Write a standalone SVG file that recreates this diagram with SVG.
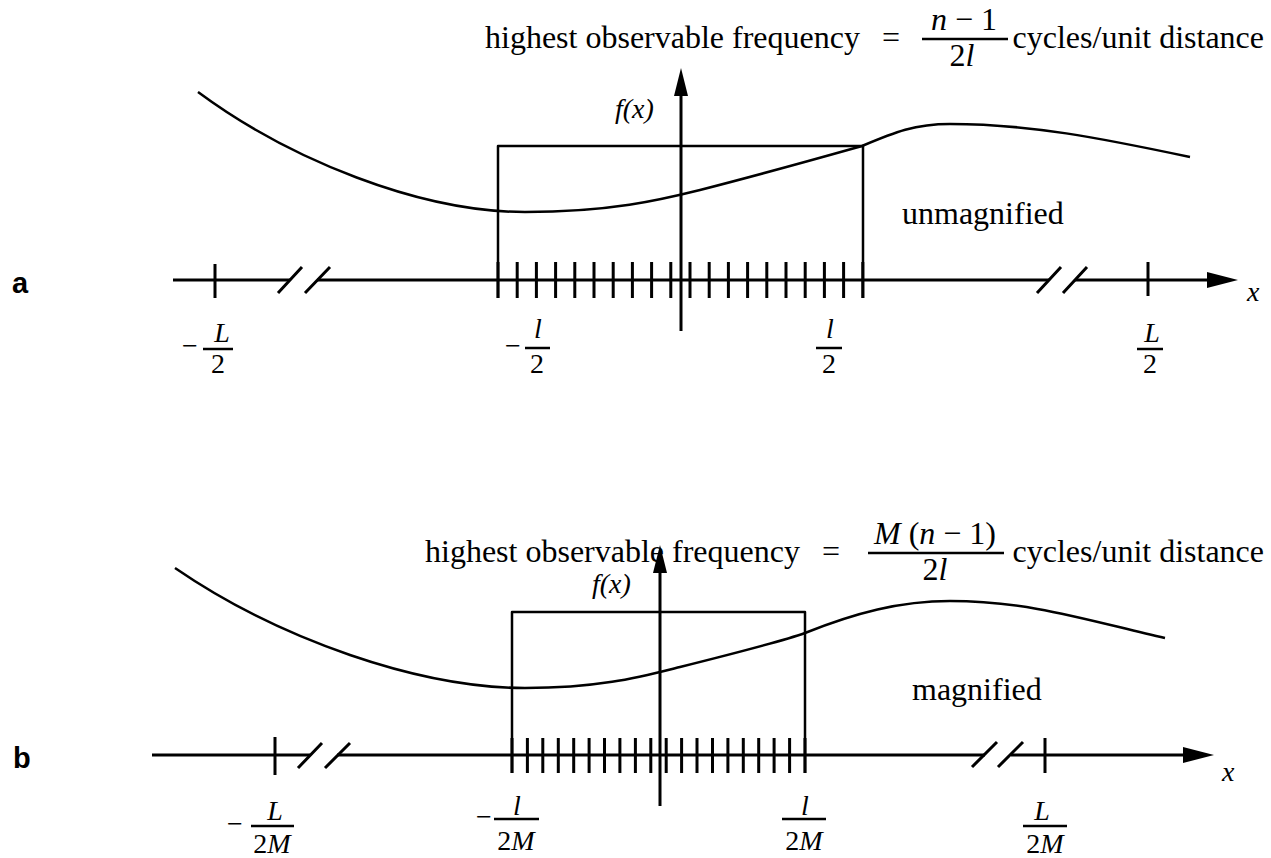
<svg xmlns="http://www.w3.org/2000/svg" width="1271" height="858" viewBox="0 0 1271 858">
<style>
.ln{stroke:#000;stroke-width:2.5;fill:none;stroke-linejoin:round}
.ax{stroke:#000;stroke-width:3;fill:none}
.tk{stroke:#000;stroke-width:3;fill:none}
.t{font-family:"Liberation Serif","Times New Roman",serif;font-size:32px;fill:#000}
.m{font-family:"Liberation Serif","Times New Roman",serif;font-size:28px;fill:#000}
.i{font-style:italic}
.c{text-anchor:middle}
.e{text-anchor:end}
.s{font-family:"Liberation Sans",Arial,sans-serif;font-weight:bold;font-size:29px;fill:#000}
</style>

<g id="panel-a">
  <g id="a-label"><text class="s" x="12" y="293">a</text></g>
  <g id="a-title">
    <text class="t" x="485" y="48">highest observable frequency</text>
    <text class="t" x="882" y="48">=</text>
    <text class="t c" x="964" y="30"><tspan class="i">n</tspan> − 1</text>
    <line class="ln" x1="922" y1="39" x2="1008" y2="39"/>
    <text class="t c" x="962" y="66">2<tspan class="i">l</tspan></text>
    <text class="t e" x="1264" y="48">cycles/unit distance</text>
  </g>
  <g id="a-curve"><path class="ln" d="M198,92 C290,160 420,212 525,212 C610,212 660,200 700,190 C770,172 830,155 862,146 C895,132 915,124 950,124 C1030,124 1100,138 1190,157"/></g>
  <g id="a-window"><path class="ln" d="M498,298 V146 H863 V298"/></g>
  <g id="a-fx-axis">
    <line class="ax" x1="681" y1="92" x2="681" y2="331"/>
    <polygon points="681,68 674,96 688,96" fill="#000"/>
    <text class="m i" x="615" y="118">f(x)</text>
  </g>
  <g id="a-x-axis">
    <path class="ax" d="M173,280 H290 M317,280 H1049 M1075,280 H1210"/>
    <polygon points="1238,280 1207,272 1207,288" fill="#000"/>
    <path class="tk" d="M278,293 L302,267 M305,293 L330,267 M1037,293 L1061,267 M1063,293 L1087,267"/>
    <path class="tk" d="M215,264 V298 M1148,262 V296"/>
    <path class="tk" d="M498,262V298 M517.2,262V298 M536.4,262V298 M555.6,262V298 M574.8,262V298 M594,262V298 M613.2,262V298 M632.4,262V298 M651.6,262V298 M670.8,262V298 M690,262V298 M709.2,262V298 M728.4,262V298 M747.6,262V298 M766.8,262V298 M786,262V298 M805.2,262V298 M824.4,262V298 M843.6,262V298 M862.8,262V298"/>
    <text class="m i" x="1247" y="301">x</text>
  </g>
  <g id="a-tick-labels">
    <text class="m" x="182" y="355">−</text>
    <text class="m i c" x="222" y="342">L</text>
    <line class="ln" x1="203" y1="349" x2="233" y2="349"/>
    <text class="m c" x="218" y="373">2</text>
    <text class="m" x="505" y="355">−</text>
    <text class="m i c" x="538" y="338">l</text>
    <line class="ln" x1="525" y1="348" x2="550" y2="348"/>
    <text class="m c" x="537" y="373">2</text>
    <text class="m i c" x="830" y="338">l</text>
    <line class="ln" x1="816" y1="348" x2="842" y2="348"/>
    <text class="m c" x="829" y="373">2</text>
    <text class="m i c" x="1152" y="342">L</text>
    <line class="ln" x1="1137" y1="349" x2="1163" y2="349"/>
    <text class="m c" x="1150" y="373">2</text>
  </g>
  <g id="a-caption"><text class="t" x="902" y="224">unmagnified</text></g>
</g>

<g id="panel-b">
  <g id="b-label"><text class="s" x="13" y="768">b</text></g>
  <g id="b-title">
    <text class="t" x="425" y="562">highest observable frequency</text>
    <text class="t" x="822" y="562">=</text>
    <text class="t c" x="935" y="544"><tspan class="i">M</tspan> (<tspan class="i">n</tspan> − 1)</text>
    <line class="ln" x1="868" y1="553" x2="1004" y2="553"/>
    <text class="t c" x="935" y="580">2<tspan class="i">l</tspan></text>
    <text class="t e" x="1264" y="562">cycles/unit distance</text>
  </g>
  <g id="b-curve"><path class="ln" d="M175,568 C280,640 420,688 525,688 C600,688 640,677 680,667 C740,652 780,642 805,633 C855,613 900,601 950,601 C1030,601 1090,621 1165,638"/></g>
  <g id="b-window"><path class="ln" d="M512,773 V612 H805 V773"/></g>
  <g id="b-fx-axis">
    <line class="ax" x1="660" y1="570" x2="660" y2="806"/>
    <polygon points="660,545 653,573 667,573" fill="#000"/>
    <text class="m i" x="592" y="593">f(x)</text>
  </g>
  <g id="b-x-axis">
    <path class="ax" d="M152,755 H310 M337,755 H985 M1011,755 H1186"/>
    <polygon points="1214,755 1183,747 1183,763" fill="#000"/>
    <path class="tk" d="M298,768 L322,743 M325,768 L350,743 M972,767 L997,742 M998,767 L1023,742"/>
    <path class="tk" d="M275,737 V775 M1045,738 V773"/>
    <path class="tk" d="M512,738V773 M527.4,738V773 M542.8,738V773 M558.3,738V773 M573.7,738V773 M589.1,738V773 M604.5,738V773 M619.9,738V773 M635.4,738V773 M650.8,738V773 M666.2,738V773 M681.6,738V773 M697,738V773 M712.5,738V773 M727.9,738V773 M743.3,738V773 M758.7,738V773 M774.1,738V773 M789.6,738V773 M805,738V773"/>
    <text class="m i" x="1222" y="781">x</text>
  </g>
  <g id="b-tick-labels">
    <text class="m" x="227" y="833">−</text>
    <text class="m i c" x="275" y="820">L</text>
    <line class="ln" x1="251" y1="826" x2="294" y2="826"/>
    <text class="m c" x="272" y="853">2<tspan class="i">M</tspan></text>
    <text class="m" x="476" y="826">−</text>
    <text class="m i c" x="517" y="815">l</text>
    <line class="ln" x1="494" y1="819" x2="539" y2="819"/>
    <text class="m c" x="516" y="850">2<tspan class="i">M</tspan></text>
    <text class="m i c" x="805" y="815">l</text>
    <line class="ln" x1="782" y1="819" x2="826" y2="819"/>
    <text class="m c" x="804" y="850">2<tspan class="i">M</tspan></text>
    <text class="m i c" x="1042" y="820">L</text>
    <line class="ln" x1="1023" y1="826" x2="1067" y2="826"/>
    <text class="m c" x="1045" y="853">2<tspan class="i">M</tspan></text>
  </g>
  <g id="b-caption"><text class="t" x="912" y="700">magnified</text></g>
</g>
</svg>
